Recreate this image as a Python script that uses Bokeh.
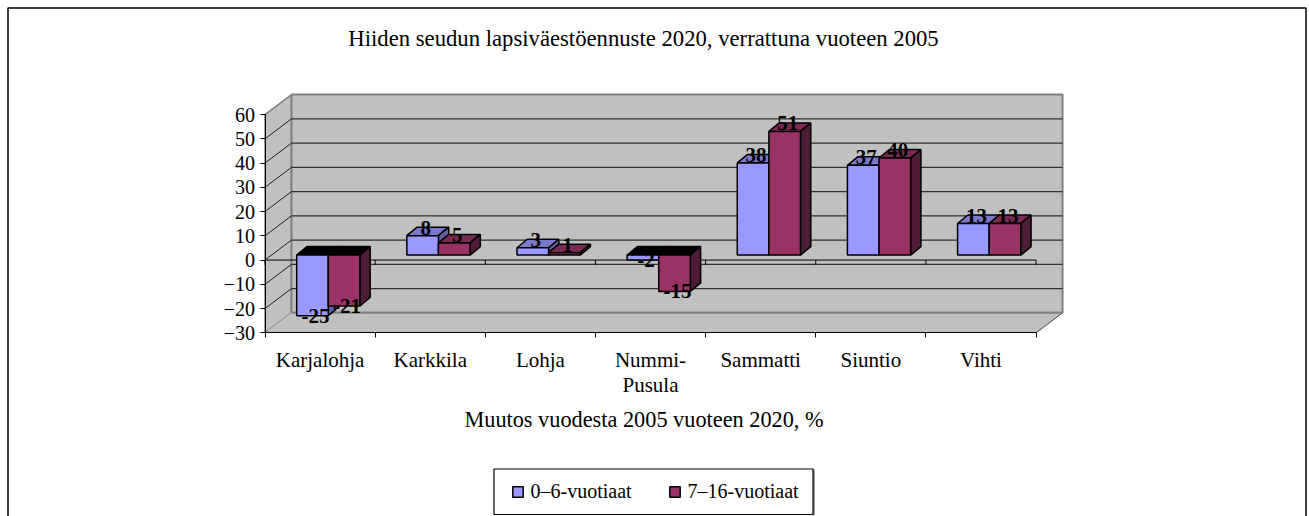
from bokeh.plotting import figure
from bokeh.models import (ColumnDataSource, Range1d, LinearAxis, FixedTicker, Legend, LegendItem)
from bokeh.core.properties import value
from bokeh.embed import file_html
from bokeh.resources import INLINE

categories = ["Karjalohja", "Karkkila", "Lohja", "Nummi-\nPusula", "Sammatti", "Siuntio", "Vihti"]
children = [-25, 8, 3, -2, 38, 37, 13]
youth = [-21, 5, 1, -15, 51, 40, 13]
series_names = ["0\u20136-vuotiaat", "7\u201316-vuotiaat"]
y_ticks = [-30, -20, -10, 0, 10, 20, 30, 40, 50, 60]
title_text = "Hiiden seudun lapsiv\u00e4est\u00f6ennuste 2020, verrattuna vuoteen 2005"
x_title = "Muutos vuodesta 2005 vuoteen 2020, %"

FONT = "Liberation Serif"
W, H = 1309, 516
AX_X, AX_Y = 264.5, 332.3      # picture position of (0, -30)
CAT_PX = 110.15
VAL_PX = 2.425
DX, DY = 26.5 / CAT_PX, 20 / VAL_PX
BX, BY = 10.3 / CAT_PX, 8.5 / VAL_PX   # bar depth
OX, OY = 8.2 / CAT_PX, 5 / VAL_PX      # bar inset from the front plane
BW = 31.6 / CAT_PX
N = len(categories)


def data_x(px):
    return (px - AX_X) / CAT_PX


def data_y(py):
    return -30 + (AX_Y - py) / VAL_PX


p = figure(width=W, height=H, output_backend="svg", toolbar_location=None,
           x_range=Range1d(data_x(0), data_x(W)),
           y_range=Range1d(data_y(H), data_y(0)),
           min_border=0, x_axis_type=None, y_axis_type=None, outline_line_color=None,
           background_fill_color="white")
p.grid.visible = False

# outer frame
p.quad(left=[data_x(7.5)], right=[data_x(1305.5)], top=[data_y(7.5)], bottom=[data_y(530)],
       fill_color=None, line_color="black", line_width=1.5)

WALL, EDGE = "#C0C0C0", "#808080"
top_y, bot_y = 60 + DY, -30 + DY
p.patch([0, DX, DX, 0], [-30, bot_y, top_y, 60], fill_color=WALL, line_color=EDGE, line_width=1.5)
p.patch([DX, N + DX, N + DX, DX], [bot_y, bot_y, top_y, top_y], fill_color=WALL, line_color=EDGE, line_width=2)
p.patch([0, N, N + DX, DX], [-30, -30, bot_y, bot_y], fill_color=WALL, line_color=None)
p.segment([N], [-30], [N + DX], [bot_y], line_color="#404040", line_width=1)
p.segment([DX], [bot_y], [N + DX], [bot_y], line_color=EDGE, line_width=2)

grid = [t for t in y_ticks if t not in (-30, 60)]
p.segment([DX] * len(grid), [t + DY for t in grid], [N + DX] * len(grid), [t + DY for t in grid],
          line_color="#303030", line_width=1.2)
p.segment([0] * len(grid), grid, [DX] * len(grid), [t + DY for t in grid],
          line_color="#202020", line_width=1)

SERIES = [
    (children, 0, "#9999FF", "#7A7ACC", "#5F5FA0"),
    (youth, 1, "#993366", "#7A2952", "#4F1C38"),
]

# zero axis, drawn under the bars
p.segment([0], [0], [N], [0], line_color="black", line_width=1)
p.segment(list(range(N + 1)), [0] * (N + 1), list(range(N + 1)), [-2] * (N + 1), line_color="black", line_width=1)

legend_items = []
for vals, k, front, top, side in SERIES:
    x0 = [i + 0.5 - BW + OX + k * BW for i in range(N)]
    x1 = [a + BW for a in x0]
    base = [OY] * N
    tops = [v + OY for v in vals]
    upper = [max(a, b) for a, b in zip(base, tops)]
    lower = [min(a, b) for a, b in zip(base, tops)]
    top_colors = ["black" if v < 0 else top for v in vals]
    p.patches(xs=[[a, a + BX, b + BX, b] for a, b in zip(x0, x1)],
              ys=[[u, u + BY, u + BY, u] for u in upper],
              fill_color=top_colors, line_color="black", line_width=1.5)
    p.patches(xs=[[b, b + BX, b + BX, b] for b in x1],
              ys=[[u, u + BY, l + BY, l] for u, l in zip(upper, lower)],
              fill_color=side, line_color="black", line_width=1.5)
    r = p.quad(left=x0, right=x1, top=upper, bottom=lower, fill_color=front,
               line_color="black", line_width=1.5)
    legend_items.append(LegendItem(label=series_names[k], renderers=[r]))

for vals, k, *_ in SERIES:
    xc = [i + 0.5 - BW / 2 + OX + k * BW for i in range(N)]
    ycs = [v + OY for v in vals]
    src = ColumnDataSource(dict(x=xc, y=ycs, t=[str(v) for v in vals],
                                off=[0 if v < 0 else -8 for v in vals]))
    p.text("x", "y", text="t", source=src, x_offset=3, y_offset="off", text_align="center",
           text_baseline="middle", text_font=value(FONT), text_font_size="21px", text_color="black",
           text_font_style="bold")

left_axis = LinearAxis(fixed_location=0, ticker=FixedTicker(ticks=y_ticks), bounds=(-30, 60), major_tick_in=0, major_tick_out=5,
                       minor_tick_line_color=None, major_label_standoff=5,
                       major_label_text_font=FONT, major_label_text_font_size="20px",
                       major_label_text_color="black", axis_line_color="black", major_tick_line_color="black")
p.add_layout(left_axis, "left")

centers = [i + 0.5 for i in range(N)]
bottom_axis = LinearAxis(fixed_location=-30, ticker=FixedTicker(ticks=centers, minor_ticks=list(range(N + 1))), bounds=(0, N),
                         major_tick_in=0, major_tick_out=0, minor_tick_in=0, minor_tick_out=5,
                         major_label_overrides={c: t for c, t in zip(centers, categories)},
                         major_label_standoff=10, major_label_text_font=FONT,
                         major_label_text_font_size="21px", major_label_text_line_height=1.05,
                         major_label_text_color="black", axis_line_color="black", minor_tick_line_color="black")
p.add_layout(bottom_axis, "below")

p.text([data_x(643)], [data_y(37.5)], text=[title_text],
       text_align="center", text_baseline="middle", text_font=value(FONT), text_font_size="22.7px", text_color="black")
p.text([data_x(643.5)], [data_y(418.5)], text=[x_title],
       text_align="center", text_baseline="middle", text_font=value(FONT), text_font_size="22.3px", text_color="black")

# legend box, with its thin shadow on the right
p.segment([data_x(813.5)], [data_y(469)], [data_x(813.5)], [data_y(515)], line_color="#808080", line_width=1.5)
p.quad(left=[data_x(493.5)], right=[data_x(812.5)], top=[data_y(468.5)], bottom=[data_y(514)],
       fill_color="white", line_color="black", line_width=1.2)

legend = Legend(items=legend_items, orientation="horizontal", location=(510.5, 13),
                label_text_font=FONT, label_text_font_size="20px", label_text_color="black",
                glyph_width=13, glyph_height=13, label_standoff=7, spacing=36, margin=0,
                border_line_color=None, background_fill_alpha=0)
p.add_layout(legend, "center")

open("out.html", "w").write(file_html(p, INLINE))
